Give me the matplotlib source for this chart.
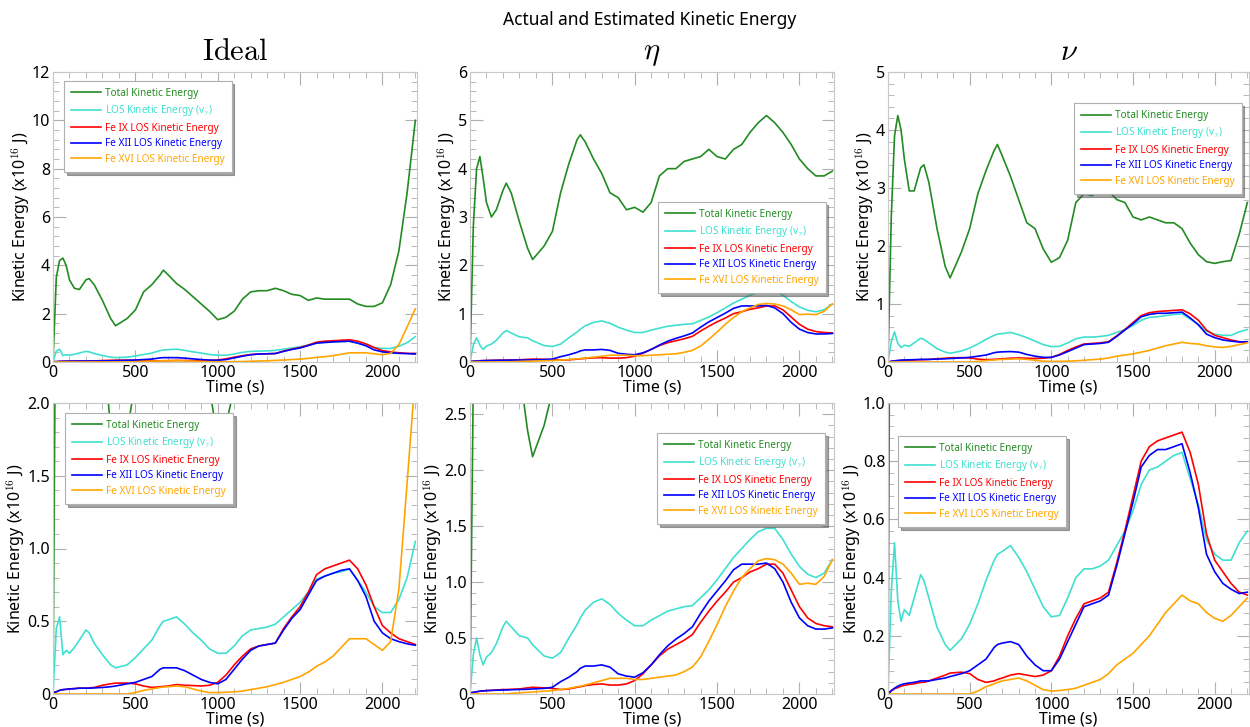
import matplotlib
matplotlib.use("Agg")
import matplotlib.pyplot as plt
from matplotlib.ticker import MultipleLocator, AutoMinorLocator, FuncFormatter

plt.rcParams['font.family'] = ['Noto Sans', 'DejaVu Sans']
plt.rcParams['mathtext.fontset'] = 'cm'

# ---------------- data ----------------
T = [0, 20, 40, 60, 80, 100, 130, 160, 200, 220, 250, 300, 350, 380,
     450, 500, 550, 600, 650, 670, 700, 750, 800, 850, 900, 950, 1000,
     1050, 1100, 1150, 1200, 1250, 1300, 1350, 1400, 1450, 1500, 1550,
     1600, 1650, 1700, 1750, 1800, 1850, 1900, 1950, 2000, 2050, 2100,
     2150, 2200]

ideal_total = [0, 3.5, 4.2, 4.3, 4.0, 3.4, 3.05, 3.0, 3.4, 3.45, 3.2, 2.55, 1.8, 1.5,
               1.8, 2.15, 2.9, 3.2, 3.6, 3.8, 3.6, 3.25, 3.0, 2.7, 2.4, 2.1, 1.75,
               1.85, 2.1, 2.6, 2.9, 2.95, 2.95, 3.05, 2.95, 2.8, 2.75, 2.55,
               2.65, 2.6, 2.6, 2.6, 2.6, 2.4, 2.3, 2.3, 2.45, 3.2, 4.6,
               7.0, 10.0]
ideal_los = [0, 0.45, 0.53, 0.27, 0.3, 0.28, 0.32, 0.37, 0.44, 0.42, 0.35, 0.27, 0.2, 0.18,
             0.2, 0.25, 0.31, 0.37, 0.47, 0.5, 0.51, 0.53, 0.48, 0.42, 0.37, 0.31, 0.28,
             0.28, 0.33, 0.4, 0.44, 0.45, 0.46, 0.48, 0.53, 0.58, 0.63, 0.7,
             0.79, 0.81, 0.83, 0.84, 0.86, 0.78, 0.7, 0.6, 0.56, 0.56, 0.65,
             0.8, 1.05]
ideal_fe9 = [0.01, 0.015, 0.025, 0.03, 0.032, 0.035, 0.037, 0.04, 0.04, 0.042, 0.045, 0.06, 0.07, 0.075,
             0.075, 0.07, 0.055, 0.045, 0.05, 0.052, 0.055, 0.065, 0.06, 0.058, 0.055, 0.06, 0.08,
             0.13, 0.2, 0.26, 0.31, 0.33, 0.34, 0.35, 0.45, 0.53, 0.6, 0.7,
             0.82, 0.86, 0.88, 0.9, 0.92, 0.86, 0.75, 0.6, 0.47, 0.42, 0.38,
             0.36, 0.34]
ideal_fe12 = [0.01, 0.015, 0.025, 0.03, 0.032, 0.035, 0.037, 0.04, 0.04, 0.04, 0.042, 0.045, 0.05, 0.055,
              0.07, 0.08, 0.1, 0.12, 0.17, 0.18, 0.18, 0.18, 0.16, 0.13, 0.1, 0.08, 0.07,
              0.1, 0.17, 0.24, 0.3, 0.33, 0.34, 0.35, 0.44, 0.52, 0.58, 0.68,
              0.78, 0.81, 0.83, 0.85, 0.86, 0.78, 0.67, 0.5, 0.42, 0.38, 0.36,
              0.345, 0.335]
ideal_fe16 = [0, 0, 0, 0, 0, 0, 0, 0, 0, 0, 0, 0, 0, 0,
              0, 0.01, 0.025, 0.035, 0.045, 0.048, 0.05, 0.055, 0.05, 0.035, 0.02, 0.01, 0.01,
              0.012, 0.015, 0.02, 0.03, 0.04, 0.05, 0.065, 0.08, 0.1, 0.12, 0.15,
              0.19, 0.22, 0.26, 0.32, 0.38, 0.38, 0.38, 0.34, 0.3, 0.36, 0.72,
              1.45, 2.2]

eta_total = [0, 2.8, 4.0, 4.25, 3.8, 3.3, 3.0, 3.15, 3.55, 3.7, 3.5, 2.9, 2.35, 2.12,
             2.4, 2.7, 3.5, 4.1, 4.6, 4.7, 4.55, 4.2, 3.9, 3.5, 3.4, 3.15, 3.2,
             3.1, 3.3, 3.85, 4.0, 4.0, 4.15, 4.2, 4.25, 4.4, 4.25, 4.2,
             4.4, 4.5, 4.75, 4.95, 5.1, 4.95, 4.75, 4.5, 4.2, 4.0, 3.85,
             3.85, 3.95]
eta_los = [0, 0.35, 0.5, 0.35, 0.26, 0.33, 0.37, 0.45, 0.6, 0.65, 0.6, 0.52, 0.5, 0.44,
           0.34, 0.32, 0.37, 0.5, 0.62, 0.68, 0.75, 0.82, 0.85, 0.8, 0.72, 0.66, 0.61,
           0.61, 0.66, 0.7, 0.74, 0.76, 0.78, 0.79, 0.86, 0.93, 1.02, 1.12,
           1.22, 1.3, 1.38, 1.45, 1.48, 1.48, 1.38, 1.25, 1.14, 1.07, 1.04,
           1.08, 1.2]
eta_fe9 = [0.01, 0.015, 0.02, 0.025, 0.028, 0.03, 0.033, 0.036, 0.04, 0.04, 0.042, 0.045, 0.055, 0.06,
           0.055, 0.05, 0.04, 0.045, 0.06, 0.065, 0.075, 0.085, 0.09, 0.08, 0.08, 0.09, 0.12,
           0.18, 0.26, 0.34, 0.4, 0.44, 0.48, 0.53, 0.64, 0.74, 0.83, 0.91,
           1.0, 1.04, 1.09, 1.12, 1.16, 1.16, 1.08, 0.93, 0.78, 0.68, 0.63,
           0.61, 0.6]
eta_fe12 = [0.01, 0.015, 0.02, 0.025, 0.028, 0.03, 0.032, 0.034, 0.035, 0.036, 0.038, 0.04, 0.042, 0.045,
            0.05, 0.06, 0.11, 0.15, 0.2, 0.23, 0.25, 0.25, 0.26, 0.24, 0.18, 0.16, 0.15,
            0.19, 0.26, 0.35, 0.43, 0.49, 0.54, 0.6, 0.72, 0.83, 0.92, 1.01,
            1.11, 1.16, 1.16, 1.16, 1.17, 1.12, 1.0, 0.82, 0.68, 0.61, 0.58,
            0.58, 0.59]
eta_fe16 = [0, 0, 0, 0, 0, 0, 0, 0, 0, 0, 0.005, 0.01, 0.015, 0.018,
            0.025, 0.03, 0.04, 0.05, 0.065, 0.07, 0.08, 0.1, 0.12, 0.14, 0.14, 0.14, 0.13,
            0.13, 0.14, 0.15, 0.16, 0.17, 0.2, 0.24, 0.33, 0.47, 0.62, 0.78,
            0.92, 1.04, 1.12, 1.19, 1.21, 1.2, 1.16, 1.08, 0.98, 0.99, 0.98,
            1.05, 1.2]

nu_total = [0, 2.5, 3.9, 4.25, 4.0, 3.5, 2.95, 2.95, 3.35, 3.4, 3.1, 2.3, 1.65, 1.45,
            1.9, 2.3, 2.9, 3.3, 3.65, 3.75, 3.55, 3.2, 2.8, 2.4, 2.3, 1.95, 1.72,
            1.8, 2.1, 2.75, 2.9, 2.87, 3.0, 2.95, 2.8, 2.75, 2.5, 2.45,
            2.5, 2.45, 2.4, 2.4, 2.3, 2.05, 1.85, 1.73, 1.7, 1.73, 1.75,
            2.2, 2.75]
nu_los = [0, 0.35, 0.52, 0.32, 0.25, 0.29, 0.27, 0.33, 0.41, 0.39, 0.33, 0.23, 0.17, 0.15,
          0.19, 0.24, 0.31, 0.39, 0.46, 0.48, 0.49, 0.51, 0.47, 0.42, 0.36, 0.3, 0.265,
          0.27, 0.33, 0.4, 0.43, 0.43, 0.44, 0.46, 0.51, 0.56, 0.63, 0.72,
          0.77, 0.78, 0.8, 0.82, 0.83, 0.74, 0.65, 0.53, 0.48, 0.46, 0.46,
          0.52, 0.56]
nu_fe9 = [0, 0.01, 0.018, 0.022, 0.027, 0.03, 0.033, 0.035, 0.04, 0.04, 0.045, 0.055, 0.065, 0.072,
          0.075, 0.07, 0.05, 0.04, 0.045, 0.05, 0.055, 0.065, 0.07, 0.065, 0.06, 0.065, 0.08,
          0.13, 0.2, 0.26, 0.31, 0.32, 0.33, 0.35, 0.45, 0.56, 0.68, 0.8,
          0.85, 0.87, 0.88, 0.89, 0.9, 0.83, 0.72, 0.55, 0.46, 0.42, 0.38,
          0.35, 0.34]
nu_fe12 = [0, 0.012, 0.02, 0.027, 0.032, 0.035, 0.038, 0.04, 0.045, 0.045, 0.045, 0.05, 0.055, 0.06,
           0.07, 0.08, 0.1, 0.12, 0.16, 0.17, 0.175, 0.18, 0.17, 0.13, 0.1, 0.08, 0.08,
           0.12, 0.18, 0.24, 0.3, 0.31, 0.32, 0.34, 0.44, 0.55, 0.66, 0.78,
           0.82, 0.84, 0.84, 0.85, 0.86, 0.76, 0.64, 0.48, 0.42, 0.38, 0.36,
           0.345, 0.35]
nu_fe16 = [0, 0, 0, 0, 0, 0, 0, 0, 0, 0, 0, 0, 0, 0,
           0, 0, 0.01, 0.025, 0.035, 0.04, 0.045, 0.05, 0.055, 0.045, 0.03, 0.015, 0.01,
           0.012, 0.015, 0.02, 0.03, 0.04, 0.05, 0.07, 0.1, 0.12, 0.14, 0.17,
           0.2, 0.24, 0.28, 0.31, 0.34, 0.32, 0.31, 0.28, 0.26, 0.25, 0.27,
           0.3, 0.33]

column_titles = [r'$\mathrm{Ideal}$', r'$\eta$', r'$\nu$']
series_labels = ['Total Kinetic Energy', r'LOS Kinetic Energy (v$_\mathrm{y}$)',
                 'Fe IX LOS Kinetic Energy', 'Fe XII LOS Kinetic Energy',
                 'Fe XVI LOS Kinetic Energy']
series_colors = ['#228B22', '#40E0D0', '#FF0000', '#0000FF', '#FFA500']
columns = [
    [ideal_total, ideal_los, ideal_fe9, ideal_fe12, ideal_fe16],
    [eta_total, eta_los, eta_fe9, eta_fe12, eta_fe16],
    [nu_total, nu_los, nu_fe9, nu_fe12, nu_fe16],
]

# ---------------- layout ----------------
W, H = 1250, 727
fig = plt.figure(figsize=(W / 100, H / 100), dpi=100)

col_left = [53, 470, 888]
col_width = [364, 364, 361]
row_top = [72, 403]
row_h = [290, 291]

top_ylim = [(0, 12), (0, 6), (0, 5)]
top_major = [2, 1, 1]
bot_ylim = [(0, 2.0), (0, 2.6), (0, 1.0)]
bot_major = [0.5, 0.5, 0.2]

legend_anchor = [
    [(0.03, 0.969), (0.516, 0.552), (0.515, 0.893)],
    [(0.033, 0.966), (0.514, 0.897), (0.028, 0.887)],
]

def fmt_int(v, pos):
    return '%d' % round(v)

def fmt_dec(v, pos):
    if abs(v) < 1e-9:
        return '0'
    return '%.1f' % v

for r in range(2):
    for c in range(3):
        ax = fig.add_axes([col_left[c] / W, 1 - (row_top[r] + row_h[r]) / H,
                           col_width[c] / W, row_h[r] / H])
        for s, lab, col in zip(columns[c], series_labels, series_colors):
            ax.plot(T, s, color=col, lw=1.2, label=lab)
        ax.set_xlim(0, 2210)
        if r == 0:
            ax.set_ylim(*top_ylim[c])
            ax.yaxis.set_major_locator(MultipleLocator(top_major[c]))
            ax.yaxis.set_major_formatter(FuncFormatter(fmt_int))
            ax.set_title(column_titles[c], fontsize=22, pad=9)
        else:
            ax.set_ylim(*bot_ylim[c])
            ax.yaxis.set_major_locator(MultipleLocator(bot_major[c]))
            ax.yaxis.set_major_formatter(FuncFormatter(fmt_dec))
        ax.xaxis.set_major_locator(MultipleLocator(500))
        ax.xaxis.set_minor_locator(MultipleLocator(100))
        ax.yaxis.set_minor_locator(AutoMinorLocator(5))
        ax.tick_params(which='both', direction='in', top=True, right=True,
                       color='#b0b0b0', labelsize=11.5, pad=2)
        ax.tick_params(which='major', length=9, width=0.8)
        ax.tick_params(which='minor', length=4, width=0.6)
        for sp in ax.spines.values():
            sp.set_color('#c8c8c8')
            sp.set_linewidth(0.8)
        ax.set_xlabel('Time (s)', fontsize=11.5, labelpad=-1)
        ax.set_ylabel(r'Kinetic Energy (x10$^{16}$ J)', fontsize=11.5, labelpad=0)
        leg = ax.legend(loc='upper left', bbox_to_anchor=legend_anchor[r][c],
                        borderaxespad=0, fontsize=7.2, frameon=True, shadow=True,
                        fancybox=False, handlelength=3.0, handletextpad=0.4,
                        labelspacing=0.45, borderpad=0.7, framealpha=1)
        leg.get_frame().set_edgecolor('#b0b0b0')
        leg.get_frame().set_linewidth(0.8)
        for txt, col in zip(leg.get_texts(), series_colors):
            txt.set_color(col)

fig.text(0.52, 0.972, 'Actual and Estimated Kinetic Energy', ha='center',
         va='center', fontsize=12.5)

fig.savefig('out.png', dpi=100)
